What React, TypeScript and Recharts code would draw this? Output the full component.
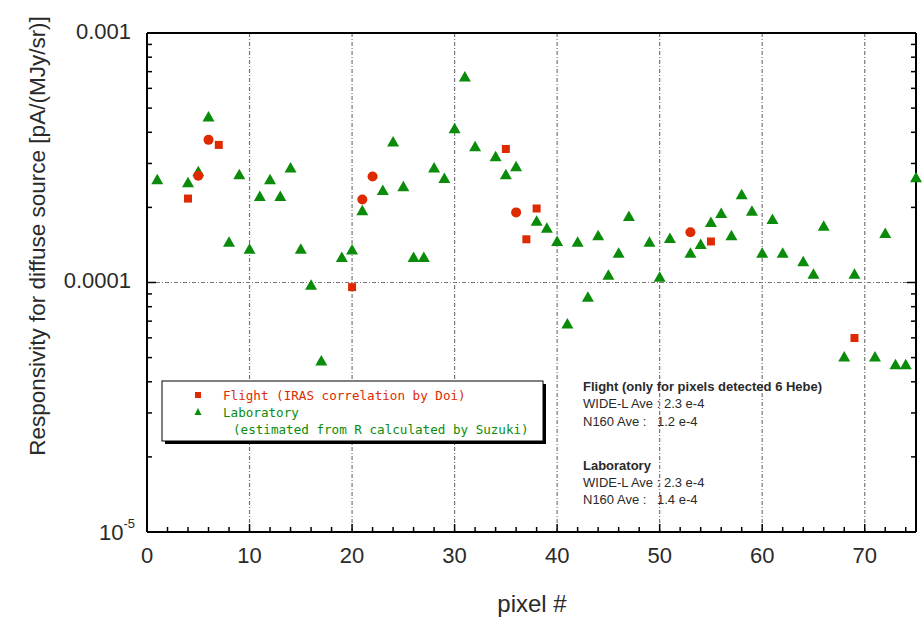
import { ScatterChart, Scatter, XAxis, YAxis, ReferenceLine } from "recharts";

// pixel index -> responsivity
const LAB_PIXELS = [
  1, 4, 5, 6, 8, 9, 10, 11, 12, 13, 14, 15, 16, 17, 19, 20, 21, 23, 24, 25, 26, 27, 28, 29, 30, 31, 32, 34, 35, 36,
  38, 39, 40, 41, 42, 43, 44, 45, 46, 47, 49, 50, 51, 53, 54, 55, 56, 57, 58, 59, 60, 61, 62, 64, 65, 66, 68, 69,
  71, 72, 73, 74, 75,
];
const LAB_VALUES = [
  2.58e-4, 2.51e-4, 2.78e-4, 4.61e-4, 1.45e-4, 2.7e-4, 1.36e-4, 2.21e-4, 2.58e-4, 2.21e-4, 2.88e-4, 1.36e-4, 9.75e-5,
  4.85e-5, 1.26e-4, 1.35e-4, 1.94e-4, 2.34e-4, 3.66e-4, 2.42e-4, 1.26e-4, 1.26e-4, 2.88e-4, 2.61e-4, 4.13e-4, 6.66e-4,
  3.5e-4, 3.19e-4, 2.7e-4, 2.91e-4, 1.76e-4, 1.65e-4, 1.46e-4, 6.82e-5, 1.45e-4, 8.73e-5, 1.54e-4, 1.07e-4, 1.31e-4,
  1.84e-4, 1.45e-4, 1.05e-4, 1.5e-4, 1.31e-4, 1.42e-4, 1.74e-4, 1.89e-4, 1.54e-4, 2.25e-4, 1.93e-4, 1.31e-4, 1.79e-4,
  1.31e-4, 1.21e-4, 1.08e-4, 1.68e-4, 5.03e-5, 1.08e-4, 5.03e-5, 1.57e-4, 4.68e-5, 4.68e-5, 2.63e-4,
];

const FLIGHT_SQ_PIXELS = [4, 7, 20, 35, 37, 38, 55, 69];
const FLIGHT_SQ_VALUES = [2.17e-4, 3.56e-4, 9.58e-5, 3.43e-4, 1.49e-4, 1.98e-4, 1.46e-4, 5.99e-5];

const FLIGHT_CIRC_PIXELS = [5, 6, 21, 22, 36, 53];
const FLIGHT_CIRC_VALUES = [2.68e-4, 3.73e-4, 2.15e-4, 2.66e-4, 1.91e-4, 1.59e-4];

const X_TICKS = [0, 2, 4, 6, 8, 10, 12, 14, 16, 18, 20, 22, 24, 26, 28, 30, 32, 34, 36, 38, 40, 42, 44, 46, 48, 50, 52, 54, 56, 58, 60, 62, 64, 66, 68, 70, 72, 74];
const X_GRID = [10, 20, 30, 40, 50, 60, 70];
const Y_DECADES = [1e-5, 1e-4, 1e-3];
const Y_MINOR = [2, 3, 4, 5, 6, 7, 8, 9];

const labData = LAB_PIXELS.map((x, i) => ({ x, y: LAB_VALUES[i] }));
const sqData = FLIGHT_SQ_PIXELS.map((x, i) => ({ x, y: FLIGHT_SQ_VALUES[i] }));
const circData = FLIGHT_CIRC_PIXELS.map((x, i) => ({ x, y: FLIGHT_CIRC_VALUES[i] }));
const yTicks = [
  ...Y_DECADES,
  ...Y_DECADES.slice(0, -1).flatMap((d) => Y_MINOR.map((m) => m * d)),
].sort((a, b) => a - b);

const GREEN = "#0a8c0a";
const RED = "#dd2a00";
const TXT = "#2a2a2a";
const FONT = "'Liberation Sans', Arial, sans-serif";
const GRID = { stroke: "#777", strokeWidth: 1.2, strokeDasharray: "4 2 1 2" };

const isDecade = (v: number) => Y_DECADES.some((d) => Math.abs(v - d) / d < 1e-6);

const Triangle = ({ cx, cy }: any) => (
  <polygon points={`${cx},${cy - 6} ${cx - 6},${cy + 4.5} ${cx + 6},${cy + 4.5}`} fill={GREEN} />
);
const Square = ({ cx, cy }: any) => <rect x={cx - 4} y={cy - 4} width={8} height={8} fill={RED} />;
const Dot = ({ cx, cy }: any) => <circle cx={cx} cy={cy} r={5} fill={RED} />;

const LeftTick = ({ x, y, payload }: any) => {
  const major = isDecade(payload.value);
  const label =
    payload.value === 1e-5 ? (
      <text x={x - 12} y={y} fontSize={22} fontFamily={FONT} fill={TXT} textAnchor="end" dominantBaseline="central">
        10<tspan fontSize={13} dy={-9}>-5</tspan>
      </text>
    ) : (
      <text x={x - 16} y={y - 2} fontSize={22} fontFamily={FONT} fill={TXT} textAnchor="end" dominantBaseline="central">
        {payload.value === 1e-3 ? "0.001" : "0.0001"}
      </text>
    );
  return (
    <g>
      <line x1={x} x2={x + (major ? 9 : 5)} y1={y} y2={y} stroke="#000" strokeWidth={1.5} />
      {major && label}
    </g>
  );
};

const RightTick = ({ x, y, payload }: any) => {
  const major = isDecade(payload.value);
  return <line x1={x} x2={x - (major ? 9 : 5)} y1={y} y2={y} stroke="#000" strokeWidth={1.5} />;
};

const BottomTick = ({ x, y, payload }: any) => {
  const major = payload.value % 10 === 0;
  return (
    <g>
      <line x1={x} x2={x} y1={y} y2={y - (major ? 8 : 5)} stroke="#000" strokeWidth={1.5} />
      {major && (
        <text x={x} y={y + 31} fontSize={22} fontFamily={FONT} fill={TXT} textAnchor="middle">
          {payload.value}
        </text>
      )}
    </g>
  );
};

const TopTick = ({ x, y, payload }: any) => {
  const major = payload.value % 10 === 0;
  return <line x1={x} x2={x} y1={y} y2={y + (major ? 8 : 5)} stroke="#000" strokeWidth={1.5} />;
};

const Overlay = () => (
  <svg width={922} height={618} style={{ position: "absolute", left: 0, top: 0, pointerEvents: "none" }}>
    <text
      x={37}
      y={236}
      transform="rotate(-90 37 236)"
      fontSize={22.5}
      fontFamily={FONT}
      fill={TXT}
      textAnchor="middle"
      dominantBaseline="central"
    >
      Responsivity for diffuse source [pA/(MJy/sr)]
    </text>
    <text x={532} y={603} fontSize={24} fontFamily={FONT} fill={TXT} textAnchor="middle" dominantBaseline="central">
      pixel #
    </text>

    {/* legend box with drop shadow */}
    <rect x={165} y={384} width={381} height={60} fill="#000" />
    <rect x={162} y={381} width={381} height={60} fill="#fff" stroke="#000" strokeWidth={1} />
    <rect x={195} y={392} width={6} height={6} fill={RED} />
    <polygon points="198,408 194.5,415 201.5,415" fill={GREEN} />
    <g fontFamily="'DejaVu Sans Mono', 'Liberation Mono', monospace" fontSize={12.6} dominantBaseline="central">
      <text x={223} y={395} fill={RED}>Flight (IRAS correlation by Doi)</text>
      <text x={223} y={412} fill={GREEN}>Laboratory</text>
      <text x={233} y={429} fill={GREEN}>(estimated from R calculated by Suzuki)</text>
    </g>

    <g fontFamily={FONT} fontSize={13} fill={TXT} dominantBaseline="central">
      <text x={583} y={386} fontWeight="bold">Flight (only for pixels detected 6 Hebe)</text>
      <text x={583} y={403}>WIDE-L Ave : 2.3 e-4</text>
      <text x={583} y={421}>N160 Ave :</text>
      <text x={657} y={421}>1.2 e-4</text>
      <text x={583} y={465} fontWeight="bold">Laboratory</text>
      <text x={583} y={482}>WIDE-L Ave : 2.3 e-4</text>
      <text x={583} y={499}>N160 Ave :</text>
      <text x={657} y={499}>1.4 e-4</text>
    </g>
  </svg>
);

export default function App() {
  return (
    <div style={{ position: "absolute", left: 0, top: 0, width: 922, height: 618, background: "#fff" }}>
      <ScatterChart width={922} height={618} margin={{ top: 32, right: 5, bottom: 0, left: 0 }}>
        <XAxis
          xAxisId="b"
          dataKey="x"
          type="number"
          domain={[0, 75]}
          ticks={X_TICKS}
          interval={0}
          height={86}
          tickSize={0}
          tickMargin={0}
          tick={<BottomTick />}
          axisLine={{ stroke: "#000", strokeWidth: 2 }}
        />
        <XAxis
          xAxisId="t"
          orientation="top"
          type="number"
          domain={[0, 75]}
          ticks={X_TICKS}
          interval={0}
          height={1}
          tickSize={0}
          tickMargin={0}
          tick={<TopTick />}
          axisLine={{ stroke: "#000", strokeWidth: 2 }}
        />
        <YAxis
          yAxisId="l"
          dataKey="y"
          type="number"
          scale="log"
          domain={[1e-5, 1e-3]}
          allowDataOverflow
          ticks={yTicks}
          interval={0}
          width={147}
          tickSize={0}
          tickMargin={0}
          tick={<LeftTick />}
          axisLine={{ stroke: "#000", strokeWidth: 2 }}
        />
        <YAxis
          yAxisId="r"
          orientation="right"
          type="number"
          scale="log"
          domain={[1e-5, 1e-3]}
          allowDataOverflow
          ticks={yTicks}
          interval={0}
          width={1}
          tickSize={0}
          tickMargin={0}
          tick={<RightTick />}
          axisLine={{ stroke: "#000", strokeWidth: 2 }}
        />
        {X_GRID.map((g) => (
          <ReferenceLine key={g} x={g} xAxisId="b" yAxisId="l" {...GRID} />
        ))}
        <ReferenceLine y={1e-4} xAxisId="b" yAxisId="l" {...GRID} />
        <Scatter data={labData} xAxisId="b" yAxisId="l" shape={<Triangle />} isAnimationActive={false} />
        <Scatter data={sqData} xAxisId="b" yAxisId="l" shape={<Square />} isAnimationActive={false} />
        <Scatter data={circData} xAxisId="b" yAxisId="l" shape={<Dot />} isAnimationActive={false} />
      </ScatterChart>
      <Overlay />
    </div>
  );
}
